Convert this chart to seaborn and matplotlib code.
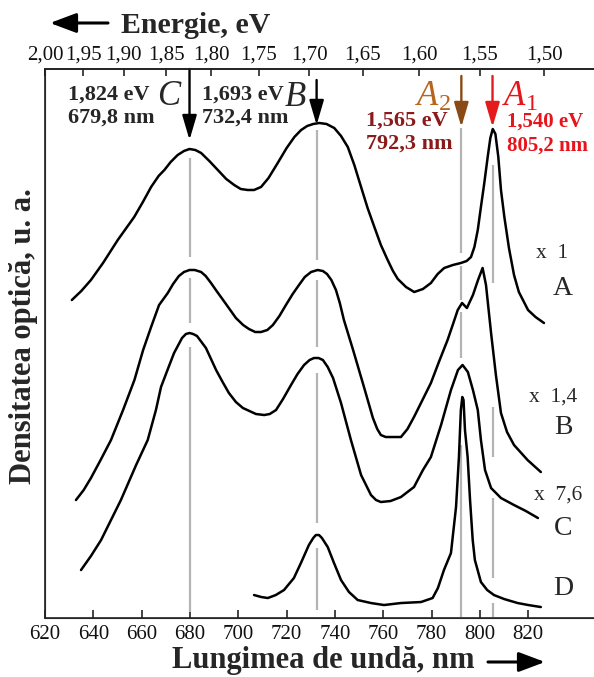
import numpy as np
import pandas as pd
import matplotlib
matplotlib.use("Agg")
import matplotlib.pyplot as plt
import seaborn as sns

# ---------------- data (wavelength nm, optical density a.u.) ----------------
wl_A = [631.1, 635.0, 639.0, 644.0, 650.1, 656.9, 660.5, 663.9, 667.0, 669.4, 672.0, 674.9,
        677.5, 679.8, 682.2, 684.6, 688.0, 691.5, 695.0, 698.3, 701.0, 703.9, 706.5, 709.4,
        712.5, 716.3, 720.0, 723.2, 726.0, 728.5, 731.0, 733.5, 736.5, 739.7, 742.5, 745.3,
        748.0, 750.8, 753.5, 756.3, 759.0, 761.8, 764.0, 766.0, 769.4, 772.8, 776.4, 779.7,
        782.5, 785.2, 788.8, 792.1, 794.5, 796.3, 797.7, 799.1, 800.4, 801.8, 803.2, 804.3,
        805.3, 806.4, 807.6, 808.7, 810.1, 812.0, 814.1, 816.1, 819.9, 823.0, 826.5]
od_A = [3.18, 3.27, 3.38, 3.55, 3.78, 4.01, 4.16, 4.31, 4.42, 4.48, 4.56, 4.63,
        4.67, 4.69, 4.68, 4.65, 4.57, 4.48, 4.39, 4.33, 4.29, 4.28, 4.28, 4.31,
        4.40, 4.55, 4.70, 4.81, 4.88, 4.92, 4.94, 4.95, 4.94, 4.90, 4.82, 4.71,
        4.53, 4.31, 4.10, 3.91, 3.73, 3.58, 3.47, 3.39, 3.31, 3.26, 3.29, 3.35,
        3.44, 3.50, 3.53, 3.55, 3.57, 3.61, 3.71, 3.88, 4.11, 4.35, 4.61, 4.80,
        4.89, 4.84, 4.61, 4.28, 4.01, 3.70, 3.43, 3.26, 3.08, 3.01, 2.95]

wl_B = [632.8, 636.0, 639.0, 643.0, 647.3, 652.3, 657.0, 660.6, 663.9, 667.2, 670.8, 673.0,
        675.4, 677.5, 679.8, 682.0, 684.6, 686.5, 688.7, 691.0, 693.7, 699.0, 702.0, 704.4,
        707.0, 709.4, 712.0, 714.3, 717.0, 719.7, 722.5, 725.1, 727.5, 730.1, 732.8, 735.0,
        736.7, 738.5, 740.4, 742.0, 743.7, 747.5, 752.0, 755.7, 757.5, 759.0, 761.0, 763.2,
        767.3, 770.0, 772.7, 776.0, 779.7, 783.0, 786.6, 789.0, 790.8, 792.6, 794.6, 797.1,
        799.2, 801.1, 802.5, 804.6, 806.6, 808.7, 811.2, 814.1, 819.7, 825.2]
od_B = [1.18, 1.28, 1.40, 1.58, 1.78, 2.08, 2.38, 2.68, 2.91, 3.13, 3.25, 3.34,
        3.42, 3.46, 3.48, 3.48, 3.46, 3.42, 3.35, 3.27, 3.18, 3.00, 2.93, 2.89,
        2.86, 2.86, 2.88, 2.93, 3.02, 3.13, 3.24, 3.33, 3.41, 3.46, 3.48, 3.47,
        3.44, 3.38, 3.28, 3.15, 2.98, 2.68, 2.31, 2.00, 1.89, 1.83, 1.81, 1.81,
        1.81, 1.89, 2.01, 2.17, 2.35, 2.56, 2.78, 2.95, 3.08, 3.15, 3.10, 3.23,
        3.38, 3.50, 3.33, 2.85, 2.43, 2.05, 1.86, 1.73, 1.58, 1.46]

wl_C = [634.9, 639.0, 643.2, 647.3, 651.4, 657.7, 662.5, 665.9, 668.0, 671.0, 673.4, 676.7,
        678.3, 679.8, 681.3, 682.9, 686.6, 690.8, 693.5, 696.1, 699.0, 701.9, 707.3, 710.7,
        713.0, 715.6, 718.5, 721.8, 724.5, 727.2, 729.5, 731.3, 733.2, 735.0, 737.0, 739.2,
        742.5, 746.6, 750.8, 754.9, 757.0, 759.0, 763.0, 767.3, 772.7, 776.4, 779.7, 783.9,
        788.0, 790.9, 792.8, 795.0, 797.1, 799.1, 800.4, 802.1, 804.6, 808.7, 814.1, 819.0, 824.0]
od_C = [0.48, 0.62, 0.78, 0.98, 1.18, 1.53, 1.78, 2.08, 2.31, 2.50, 2.65, 2.80,
        2.84, 2.85, 2.84, 2.82, 2.70, 2.48, 2.36, 2.25, 2.16, 2.10, 2.04, 2.03,
        2.04, 2.08, 2.19, 2.33, 2.44, 2.53, 2.58, 2.60, 2.60, 2.58, 2.51, 2.40,
        2.15, 1.78, 1.43, 1.23, 1.18, 1.16, 1.17, 1.21, 1.31, 1.48, 1.61, 1.93,
        2.28, 2.48, 2.53, 2.46, 2.28, 2.08, 1.78, 1.48, 1.30, 1.20, 1.13, 1.07, 1.00]

wl_D = [706.5, 709.5, 712.2, 715.5, 718.9, 723.0, 725.9, 729.2, 731.0, 732.1, 733.4, 734.6,
        737.0, 739.6, 742.5, 745.8, 749.4, 754.9, 760.3, 767.3, 775.6, 780.4, 782.6, 785.1,
        788.0, 790.1, 791.3, 792.1, 792.7, 793.2, 793.8, 794.9, 795.9, 797.0, 797.9, 800.4,
        803.0, 805.8, 810.0, 815.6, 820.0, 825.2]
od_D = [0.23, 0.21, 0.20, 0.23, 0.28, 0.40, 0.55, 0.73, 0.80, 0.83, 0.83, 0.80,
        0.71, 0.55, 0.38, 0.26, 0.18, 0.15, 0.13, 0.15, 0.16, 0.20, 0.30, 0.48,
        0.65, 1.11, 1.61, 2.08, 2.21, 2.18, 1.88, 1.61, 1.18, 0.78, 0.58, 0.36,
        0.28, 0.23, 0.19, 0.15, 0.13, 0.11]

curve_names = ["A", "B", "C", "D"]
scale_labels = ["x 1", "x 1,4", "x 7,6", ""]

# peak positions (nm) and their labels
peak_nm = [679.8, 732.4, 792.3, 805.2]
peak_ev = ["1,824 eV", "1,693 eV", "1,565 eV", "1,540 eV"]
peak_nm_lbl = ["679,8 nm", "732,4 nm", "792,3 nm", "805,2 nm"]

# gray guide segments (y ranges in a.u.) for each peak line
guide_segments = [
    [(4.60, 3.61), (3.40, 2.95), (2.71, 0.06)],
    [(4.88, 3.58), (3.38, 2.71), (2.45, 0.95), (0.70, 0.08)],
    [(4.90, 3.65), (3.52, 3.18), (3.06, 2.60), (1.73, 0.01)],
    [(4.53, 3.35), (2.11, 1.61), (1.20, 0.40), (0.15, 0.01)],
]

bottom_ticks = [620, 640, 660, 680, 700, 720, 740, 760, 780, 800, 820]
energy_ticks = [2.00, 1.95, 1.90, 1.85, 1.80, 1.75, 1.70, 1.65, 1.60, 1.55, 1.50]
energy_tick_labels = ["2,00", "1,95", "1,90", "1,85", "1,80", "1,75", "1,70", "1,65", "1,60", "1,55", "1,50"]

# ---------------- style ----------------
sns.set_style("ticks")
plt.rcParams["font.family"] = ["Liberation Serif", "DejaVu Serif"]
plt.rcParams["mathtext.fontset"] = "custom"
plt.rcParams["mathtext.it"] = "Liberation Serif:italic"
plt.rcParams["mathtext.rm"] = "Liberation Serif"

frames = []
for name, wl, od in zip(curve_names, [wl_A, wl_B, wl_C, wl_D], [od_A, od_B, od_C, od_D]):
    frames.append(pd.DataFrame({"wl": wl, "od": od, "curve": name}))
df = pd.concat(frames, ignore_index=True)

fig = plt.figure(figsize=(5.94, 6.77), dpi=100)
ax = fig.add_axes([0.0758, 0.0871, 0.9242, 0.8110])

XMIN, XMAX = 620, 847.2
YMIN, YMAX = 0, 5.49

# gray guide lines
for x, segs in zip(peak_nm, guide_segments):
    for y0, y1 in segs:
        ax.plot([x, x], [y0, y1], color="#b4b4b4", lw=1.6, zorder=1, solid_capstyle="butt")

for name in curve_names:
    sub = df[df["curve"] == name]
    sns.lineplot(data=sub, x="wl", y="od", ax=ax, color="black", lw=1.8,
                 sort=False, estimator=None, zorder=3)
for line in ax.get_lines():
    line.set_solid_joinstyle("round")

ax.set_xlim(XMIN, XMAX)
ax.set_ylim(YMIN, YMAX)
ax.set_xlabel("")
ax.set_ylabel("")
ax.set_yticks([])
ax.set_xticks(bottom_ticks)
ax.set_xticklabels([str(t) for t in bottom_ticks])
ax.tick_params(axis="x", direction="in", length=6, width=1.1, labelsize=15, pad=5, colors="#111111")
for s in ["left", "bottom", "top"]:
    ax.spines[s].set_linewidth(1.2)
    ax.spines[s].set_color("#222222")
ax.spines["right"].set_visible(False)

ax2 = ax.twiny()
ax2.set_xlim(XMIN, XMAX)
ax2.set_xticks([1239.84 / e for e in energy_ticks])
ax2.set_xticklabels(energy_tick_labels)
ax2.tick_params(axis="x", direction="in", length=5, width=1.1, labelsize=15, pad=3, colors="#111111")
ax2.spines["right"].set_visible(False)
ax2.spines["top"].set_linewidth(1.2)
ax2.spines["top"].set_color("#222222")
ax2.set_yticks([])

# arrows
arrow_cols = ["black", "black", "#8a4a14", "#e41a1c"]
arrow_start = [5.49, 5.38, 5.42, 5.42]
arrow_tip = [4.78, 4.93, 4.91, 4.91]
for x, c, y0, y1 in zip(peak_nm, arrow_cols, arrow_start, arrow_tip):
    ax.annotate("", xy=(x, y1), xytext=(x, y0),
                arrowprops=dict(arrowstyle="-|>,head_length=0.75,head_width=0.22",
                                color=c, lw=1.7, shrinkA=0, shrinkB=0,
                                mutation_scale=20),
                annotation_clip=False, zorder=5)

# peak annotations
ax.text(629.5, 5.23, peak_ev[0], fontsize=16, fontweight="bold", ha="left", va="center")
ax.text(629.5, 5.00, peak_nm_lbl[0], fontsize=16, fontweight="bold", ha="left", va="center")
ax.text(671.0, 5.21, "C", fontsize=25, fontstyle="italic", ha="center", va="center")
ax.text(685.0, 5.23, peak_ev[1], fontsize=16, fontweight="bold", ha="left", va="center")
ax.text(685.0, 5.00, peak_nm_lbl[1], fontsize=16, fontweight="bold", ha="left", va="center")
ax.text(723.4, 5.20, "B", fontsize=25, fontstyle="italic", ha="center", va="center")

ax.text(780.5, 5.21, r"$\mathit{A}_{\mathit{2}}$", fontsize=25, color="#b5651d", ha="center", va="center")
ax.text(752.8, 4.97, peak_ev[2], fontsize=16, fontweight="bold", color="#8b1a1a", ha="left", va="center")
ax.text(752.8, 4.74, peak_nm_lbl[2], fontsize=16, fontweight="bold", color="#8b1a1a", ha="left", va="center")
ax.text(809.0, 5.21, r"$\mathit{A}_{\mathit{1}}$", fontsize=25, color="#e8141c", ha="left", va="center")
ax.text(811.0, 4.96, peak_ev[3], fontsize=15, fontweight="bold", color="#e8141c", ha="left", va="center")
ax.text(811.0, 4.72, peak_nm_lbl[3], fontsize=15, fontweight="bold", color="#e8141c", ha="left", va="center")

# curve labels on the right
lbl_y = [3.30, 1.91, 0.90, 0.30]
scl_y = [3.65, 2.21, 1.23, None]
scl_x = [823.2, 820.3, 822.4, None]
for name, ly, sl, sy, sx in zip(curve_names, lbl_y, scale_labels, scl_y, scl_x):
    ax.text(834.4, ly, name, fontsize=20, ha="center", va="center")
    if sy is not None:
        ax.text(sx, sy, sl.replace(" ", "  "), fontsize=15.5, ha="left", va="center")

# axis titles
fig.text(0.329, 0.963, "Energie, eV", fontsize=21.5, fontweight="bold", ha="center", va="center")
fig.text(0.545, 0.025, "Lungimea de undă, nm", fontsize=22, fontweight="bold", ha="center", va="center")
fig.text(0.039, 0.504, "Densitatea optică, u. a.", fontsize=22, fontweight="bold",
         ha="center", va="center", rotation=90)
fig_arrow = dict(arrowstyle="-|>,head_length=0.8,head_width=0.3", color="black", lw=2.2,
                 shrinkA=0, shrinkB=0, mutation_scale=20)
ax.annotate("", xy=(50 / 594, 1 - 23 / 677), xytext=(108 / 594, 1 - 23 / 677),
            xycoords="figure fraction", textcoords="figure fraction", arrowprops=fig_arrow)
ax.annotate("", xy=(545 / 594, 1 - 662 / 677), xytext=(488 / 594, 1 - 662 / 677),
            xycoords="figure fraction", textcoords="figure fraction", arrowprops=fig_arrow)

fig.savefig("out.png", dpi=100, facecolor="white")
